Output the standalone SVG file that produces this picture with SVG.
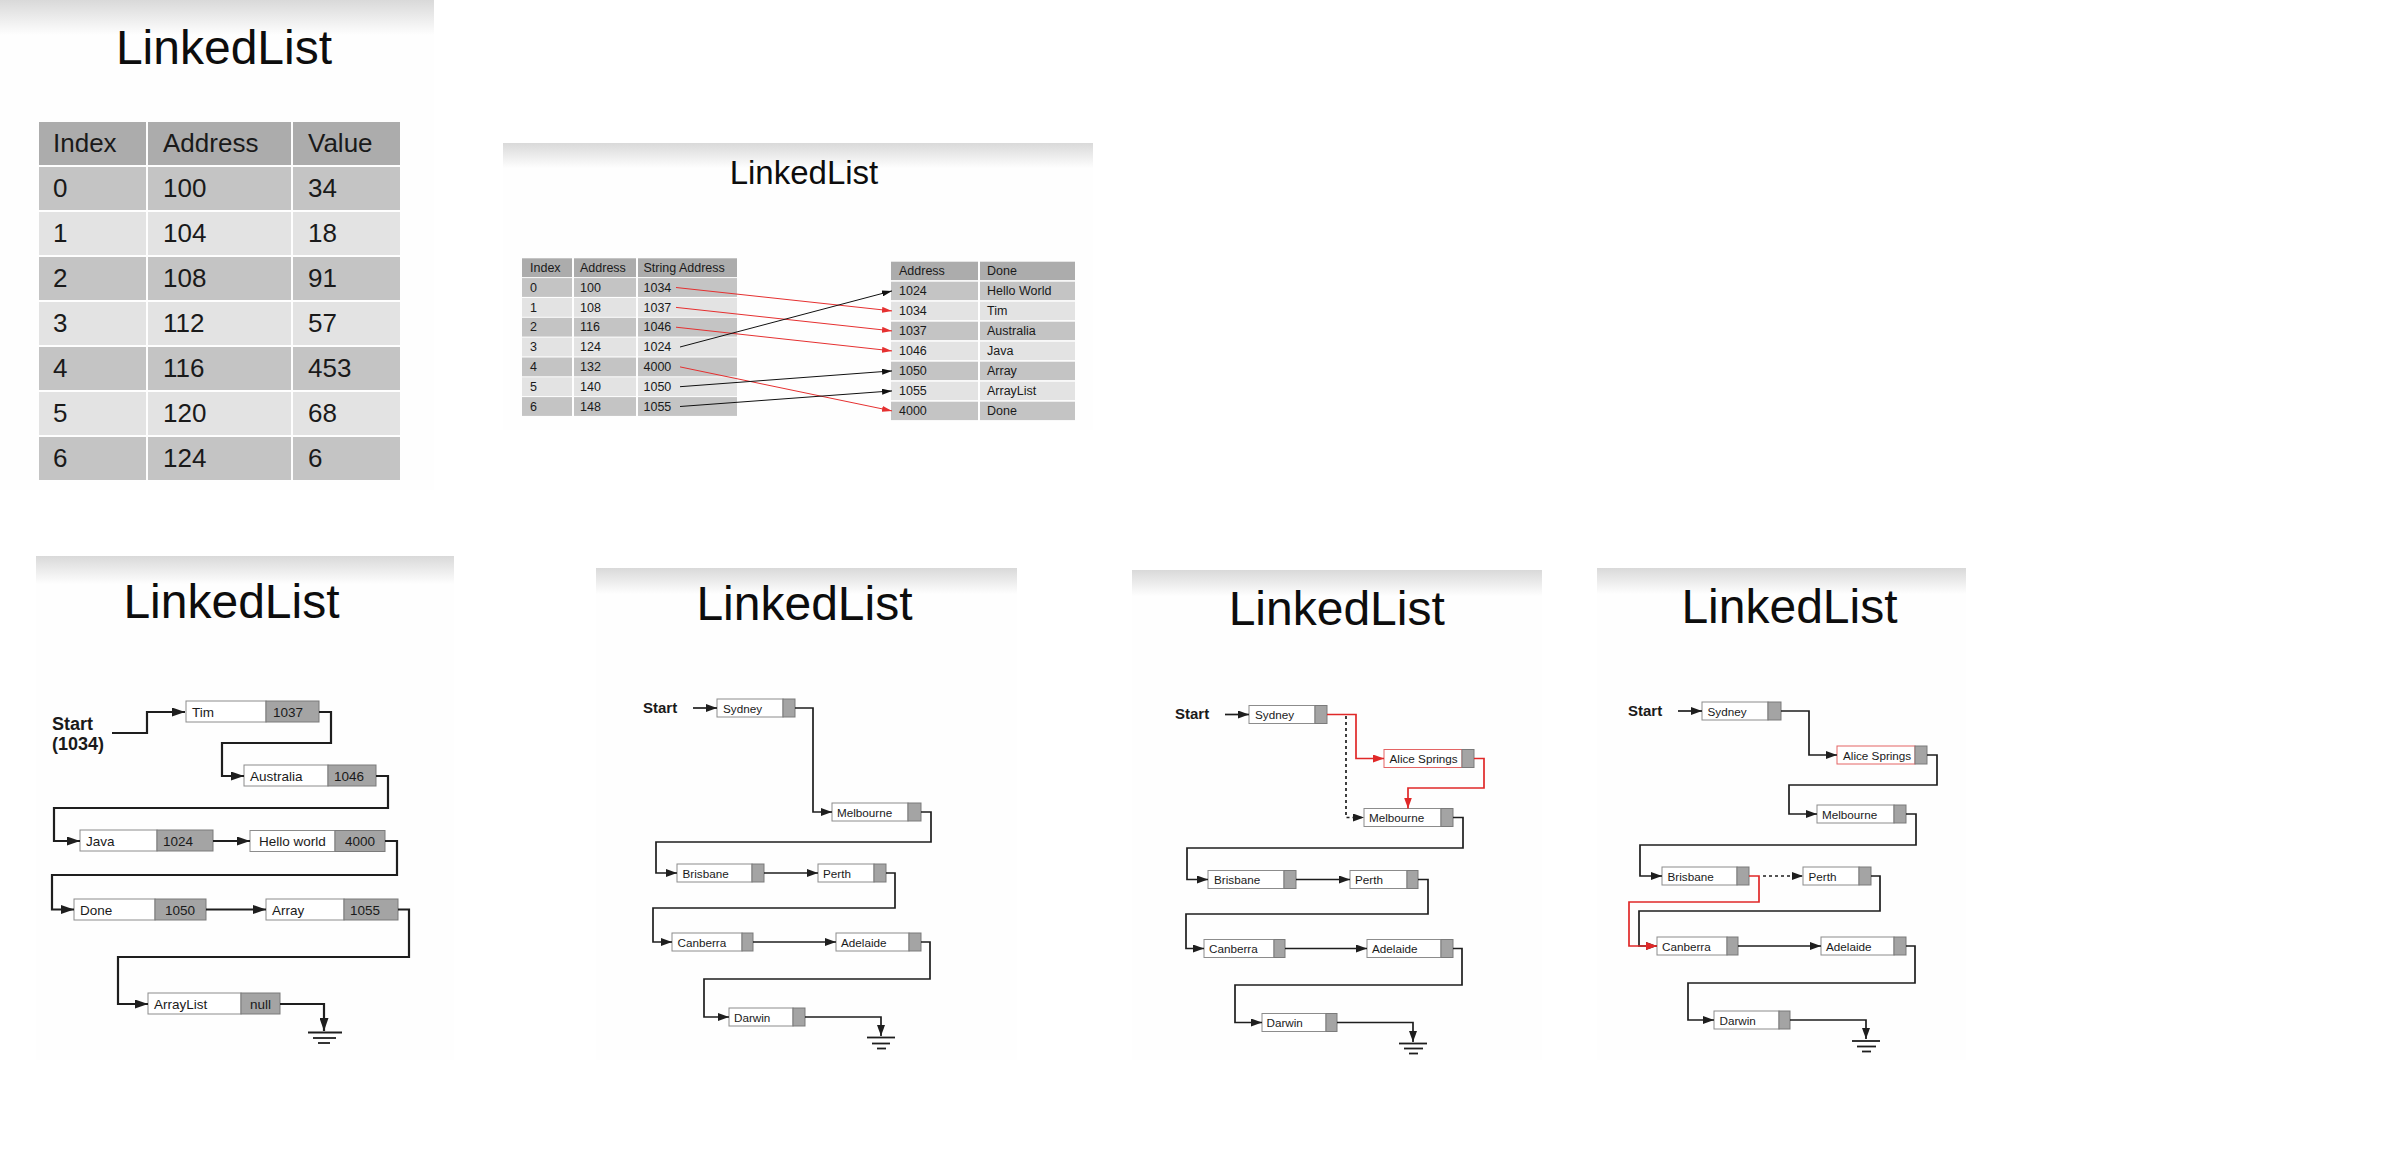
<svg xmlns="http://www.w3.org/2000/svg" width="2402" height="1150" viewBox="0 0 2402 1150">
<defs>
<linearGradient id="hdr" x1="0" y1="0" x2="0" y2="1">
<stop offset="0" stop-color="#d9d9d9"/>
<stop offset="1" stop-color="#fefefe"/>
</linearGradient>
<marker id="ahB" markerUnits="userSpaceOnUse" markerWidth="14" markerHeight="9" refX="13" refY="4.5" orient="auto"><path d="M0,0L13,4.5L0,9z" fill="#1e1e1e"/></marker>
<marker id="ahS" markerUnits="userSpaceOnUse" markerWidth="12" markerHeight="8" refX="11" refY="4" orient="auto"><path d="M0,0L11,4L0,8z" fill="#1e1e1e"/></marker>
<marker id="ahR" markerUnits="userSpaceOnUse" markerWidth="12" markerHeight="8" refX="11" refY="4" orient="auto"><path d="M0,0L11,4L0,8z" fill="#e02828"/></marker>
<marker id="ahT" markerUnits="userSpaceOnUse" markerWidth="11" markerHeight="6" refX="10" refY="3" orient="auto"><path d="M0,0L10,3L0,6z" fill="#111"/></marker>
<marker id="ahTR" markerUnits="userSpaceOnUse" markerWidth="11" markerHeight="6" refX="10" refY="3" orient="auto"><path d="M0,0L10,3L0,6z" fill="#e53030"/></marker>
</defs>
<style>
text{font-family:"Liberation Sans",Arial,sans-serif;fill:#1a1a1a}
.bg{fill:#fefefe}
.hd{fill:url(#hdr)}
.title{font-size:48px;text-anchor:middle;fill:#0d0d0d}
.th{fill:#acacac}
.td{fill:#c4c4c4}
.tl{fill:#e3e3e3}
.t1{font-size:26px}
.t2{font-size:12.5px}
.box{fill:#fff;stroke:#8c8c8c;stroke-width:1}
.rbox{fill:#fff;stroke:#e46464;stroke-width:1}
.ptr{fill:#a4a4a4;stroke:#7a7a7a;stroke-width:1}
.l13{font-size:13.5px}
.l12{font-size:11.7px}
.st{font-weight:bold}
.s18{font-size:18px}
.s15{font-size:15px}
.ln{fill:none;stroke:#1e1e1e;stroke-width:2.2}
.ln2{fill:none;stroke:#1e1e1e;stroke-width:1.7}
.red{stroke:#e02828}
.dash{stroke-dasharray:3 3}
.thin{fill:none;stroke:#111;stroke-width:1}
.thinr{fill:none;stroke:#e53030;stroke-width:1}
.gnd{stroke:#1e1e1e;stroke-width:1.8}
</style>

<!-- Panel backgrounds and titles -->
<g id="panel1">
<rect class="bg" x="0" y="0" width="434" height="490"/>
<rect class="hd" x="0" y="0" width="434" height="35"/>
<text class="title" x="224" y="64">LinkedList</text>
</g>
<g id="panel2">
<rect class="bg" x="503" y="143" width="590" height="287"/>
<rect class="hd" x="503" y="143" width="590" height="25"/>
<text class="title" x="804" y="184" style="font-size:33px">LinkedList</text>
</g>
<g id="panel3">
<rect class="bg" x="36" y="556" width="418" height="504"/>
<rect class="hd" x="36" y="556" width="418" height="28"/>
<text class="title" x="231.5" y="618">LinkedList</text>
</g>
<g id="panel4">
<rect class="bg" x="596" y="568" width="421" height="492"/>
<rect class="hd" x="596" y="568" width="421" height="26"/>
<text class="title" x="804.5" y="620">LinkedList</text>
</g>
<g id="panel5">
<rect class="bg" x="1132" y="570" width="410" height="490"/>
<rect class="hd" x="1132" y="570" width="410" height="26"/>
<text class="title" x="1336.7" y="625">LinkedList</text>
</g>
<g id="panel6">
<rect class="bg" x="1597" y="568" width="369" height="492"/>
<rect class="hd" x="1597" y="568" width="369" height="26"/>
<text class="title" x="1789.5" y="622.7">LinkedList</text>
</g>

<!-- Panel 1 table -->
<g id="table1">
<rect class="th" x="39" y="122" width="107" height="43"/><rect class="th" x="148" y="122" width="143" height="43"/><rect class="th" x="293" y="122" width="107" height="43"/>
<rect class="td" x="39" y="167" width="107" height="43"/><rect class="td" x="148" y="167" width="143" height="43"/><rect class="td" x="293" y="167" width="107" height="43"/>
<rect class="tl" x="39" y="212" width="107" height="43"/><rect class="tl" x="148" y="212" width="143" height="43"/><rect class="tl" x="293" y="212" width="107" height="43"/>
<rect class="td" x="39" y="257" width="107" height="43"/><rect class="td" x="148" y="257" width="143" height="43"/><rect class="td" x="293" y="257" width="107" height="43"/>
<rect class="tl" x="39" y="302" width="107" height="43"/><rect class="tl" x="148" y="302" width="143" height="43"/><rect class="tl" x="293" y="302" width="107" height="43"/>
<rect class="td" x="39" y="347" width="107" height="43"/><rect class="td" x="148" y="347" width="143" height="43"/><rect class="td" x="293" y="347" width="107" height="43"/>
<rect class="tl" x="39" y="392" width="107" height="43"/><rect class="tl" x="148" y="392" width="143" height="43"/><rect class="tl" x="293" y="392" width="107" height="43"/>
<rect class="td" x="39" y="437" width="107" height="43"/><rect class="td" x="148" y="437" width="143" height="43"/><rect class="td" x="293" y="437" width="107" height="43"/>
<g class="t1">
<text x="53" y="152">Index</text><text x="163" y="152">Address</text><text x="308" y="152">Value</text>
<text x="53" y="197">0</text><text x="163" y="197">100</text><text x="308" y="197">34</text>
<text x="53" y="242">1</text><text x="163" y="242">104</text><text x="308" y="242">18</text>
<text x="53" y="287">2</text><text x="163" y="287">108</text><text x="308" y="287">91</text>
<text x="53" y="332">3</text><text x="163" y="332">112</text><text x="308" y="332">57</text>
<text x="53" y="377">4</text><text x="163" y="377">116</text><text x="308" y="377">453</text>
<text x="53" y="422">5</text><text x="163" y="422">120</text><text x="308" y="422">68</text>
<text x="53" y="467">6</text><text x="163" y="467">124</text><text x="308" y="467">6</text>
</g>
</g>

<!-- Panel 2 tables -->
<g id="table2left">
<rect class="th" x="522" y="258.3" width="50" height="18.8"/><rect class="th" x="574" y="258.3" width="62" height="18.8"/><rect class="th" x="638" y="258.3" width="99" height="18.8"/>
<rect class="td" x="522" y="278.1" width="50" height="18.8"/><rect class="td" x="574" y="278.1" width="62" height="18.8"/><rect class="td" x="638" y="278.1" width="99" height="18.8"/>
<rect class="tl" x="522" y="298" width="50" height="18.8"/><rect class="tl" x="574" y="298" width="62" height="18.8"/><rect class="tl" x="638" y="298" width="99" height="18.8"/>
<rect class="td" x="522" y="317.8" width="50" height="18.8"/><rect class="td" x="574" y="317.8" width="62" height="18.8"/><rect class="td" x="638" y="317.8" width="99" height="18.8"/>
<rect class="tl" x="522" y="337.6" width="50" height="18.8"/><rect class="tl" x="574" y="337.6" width="62" height="18.8"/><rect class="tl" x="638" y="337.6" width="99" height="18.8"/>
<rect class="td" x="522" y="357.5" width="50" height="18.8"/><rect class="td" x="574" y="357.5" width="62" height="18.8"/><rect class="td" x="638" y="357.5" width="99" height="18.8"/>
<rect class="tl" x="522" y="377.3" width="50" height="18.8"/><rect class="tl" x="574" y="377.3" width="62" height="18.8"/><rect class="tl" x="638" y="377.3" width="99" height="18.8"/>
<rect class="td" x="522" y="397.1" width="50" height="18.8"/><rect class="td" x="574" y="397.1" width="62" height="18.8"/><rect class="td" x="638" y="397.1" width="99" height="18.8"/>
<g class="t2">
<text x="530" y="271.9">Index</text><text x="580" y="271.9">Address</text><text x="643.5" y="271.9">String Address</text>
<text x="530" y="291.7">0</text><text x="580" y="291.7">100</text><text x="643.5" y="291.7">1034</text>
<text x="530" y="311.6">1</text><text x="580" y="311.6">108</text><text x="643.5" y="311.6">1037</text>
<text x="530" y="331.4">2</text><text x="580" y="331.4">116</text><text x="643.5" y="331.4">1046</text>
<text x="530" y="351.2">3</text><text x="580" y="351.2">124</text><text x="643.5" y="351.2">1024</text>
<text x="530" y="371.1">4</text><text x="580" y="371.1">132</text><text x="643.5" y="371.1">4000</text>
<text x="530" y="390.9">5</text><text x="580" y="390.9">140</text><text x="643.5" y="390.9">1050</text>
<text x="530" y="410.7">6</text><text x="580" y="410.7">148</text><text x="643.5" y="410.7">1055</text>
</g>
</g>
<g id="table2right">
<rect class="th" x="891" y="261.7" width="87" height="18.4"/><rect class="th" x="980" y="261.7" width="95" height="18.4"/>
<rect class="td" x="891" y="281.7" width="87" height="18.4"/><rect class="td" x="980" y="281.7" width="95" height="18.4"/>
<rect class="tl" x="891" y="301.7" width="87" height="18.4"/><rect class="tl" x="980" y="301.7" width="95" height="18.4"/>
<rect class="td" x="891" y="321.7" width="87" height="18.4"/><rect class="td" x="980" y="321.7" width="95" height="18.4"/>
<rect class="tl" x="891" y="341.7" width="87" height="18.4"/><rect class="tl" x="980" y="341.7" width="95" height="18.4"/>
<rect class="td" x="891" y="361.7" width="87" height="18.4"/><rect class="td" x="980" y="361.7" width="95" height="18.4"/>
<rect class="tl" x="891" y="381.7" width="87" height="18.4"/><rect class="tl" x="980" y="381.7" width="95" height="18.4"/>
<rect class="td" x="891" y="401.7" width="87" height="18.4"/><rect class="td" x="980" y="401.7" width="95" height="18.4"/>
<g class="t2">
<text x="899" y="275.2">Address</text><text x="987" y="275.2">Done</text>
<text x="899" y="295.2">1024</text><text x="987" y="295.2">Hello World</text>
<text x="899" y="315.2">1034</text><text x="987" y="315.2">Tim</text>
<text x="899" y="335.2">1037</text><text x="987" y="335.2">Australia</text>
<text x="899" y="355.2">1046</text><text x="987" y="355.2">Java</text>
<text x="899" y="375.2">1050</text><text x="987" y="375.2">Array</text>
<text x="899" y="395.2">1055</text><text x="987" y="395.2">ArrayList</text>
<text x="899" y="415.2">4000</text><text x="987" y="415.2">Done</text>
</g>
</g>

<!-- Panel 3 nodes -->
<g id="p3-start"><text class="st s18" x="52" y="730">Start</text><text class="st s18" x="52" y="750">(1034)</text></g>
<g id="p3-tim"><rect class="box" x="186" y="701" width="80" height="21"/><rect class="ptr" x="266" y="701" width="53" height="21"/><text class="l13" x="192" y="716.5">Tim</text><text class="l13" x="273" y="716.5">1037</text></g>
<g id="p3-australia"><rect class="box" x="244" y="765" width="84" height="21"/><rect class="ptr" x="328" y="765" width="48" height="21"/><text class="l13" x="250" y="780.5">Australia</text><text class="l13" x="334" y="780.5">1046</text></g>
<g id="p3-java"><rect class="box" x="80" y="830" width="77" height="21"/><rect class="ptr" x="157" y="830" width="56" height="21"/><text class="l13" x="86" y="845.5">Java</text><text class="l13" x="163" y="845.5">1024</text></g>
<g id="p3-hello"><rect class="box" x="250" y="830.5" width="85" height="21"/><rect class="ptr" x="335" y="830.5" width="50" height="21"/><text class="l13" x="259" y="846">Hello world</text><text class="l13" x="345" y="846">4000</text></g>
<g id="p3-done"><rect class="box" x="74" y="899" width="81" height="21"/><rect class="ptr" x="155" y="899" width="51" height="21"/><text class="l13" x="80" y="914.5">Done</text><text class="l13" x="165" y="914.5">1050</text></g>
<g id="p3-array"><rect class="box" x="266" y="899" width="78" height="21"/><rect class="ptr" x="344" y="899" width="54" height="21"/><text class="l13" x="272" y="914.5">Array</text><text class="l13" x="350" y="914.5">1055</text></g>
<g id="p3-arraylist"><rect class="box" x="148" y="993" width="93" height="21"/><rect class="ptr" x="241" y="993" width="39" height="21"/><text class="l13" x="154" y="1008.5">ArrayList</text><text class="l13" x="250" y="1008.5">null</text></g>
<g id="p3-ground"><line class="gnd" x1="308" y1="1032.5" x2="342" y2="1032.5"/><line class="gnd" x1="313" y1="1038" x2="336" y2="1038"/><line class="gnd" x1="318" y1="1043" x2="330" y2="1043"/></g>

<!-- Panel 4 nodes -->
<g id="p4-start"><text class="st s15" x="643" y="713">Start</text></g>
<g id="p4-sydney"><rect class="box" x="717" y="699" width="66" height="18"/><rect class="ptr" x="783" y="699" width="12" height="18"/><text class="l12" x="723" y="712.5">Sydney</text></g>
<g id="p4-melbourne"><rect class="box" x="832" y="803" width="76" height="18"/><rect class="ptr" x="908" y="803" width="13" height="18"/><text class="l12" x="837" y="816.5">Melbourne</text></g>
<g id="p4-brisbane"><rect class="box" x="677" y="864" width="75" height="18"/><rect class="ptr" x="752" y="864" width="12" height="18"/><text class="l12" x="682.5" y="877.5">Brisbane</text></g>
<g id="p4-perth"><rect class="box" x="818" y="864" width="56" height="18"/><rect class="ptr" x="874" y="864" width="12" height="18"/><text class="l12" x="823" y="877.5">Perth</text></g>
<g id="p4-canberra"><rect class="box" x="672" y="933" width="70" height="18"/><rect class="ptr" x="742" y="933" width="11" height="18"/><text class="l12" x="677.5" y="946.5">Canberra</text></g>
<g id="p4-adelaide"><rect class="box" x="836" y="933" width="73" height="18"/><rect class="ptr" x="909" y="933" width="12" height="18"/><text class="l12" x="841" y="946.5">Adelaide</text></g>
<g id="p4-darwin"><rect class="box" x="729" y="1008" width="64" height="18"/><rect class="ptr" x="793" y="1008" width="12" height="18"/><text class="l12" x="734" y="1021.5">Darwin</text></g>
<g id="p4-ground"><line class="gnd" x1="867" y1="1037.5" x2="895" y2="1037.5"/><line class="gnd" x1="872" y1="1043.5" x2="890" y2="1043.5"/><line class="gnd" x1="877" y1="1048.5" x2="886" y2="1048.5"/></g>

<!-- Panel 5 nodes -->
<g id="p5-start"><text class="st s15" x="1175" y="719">Start</text></g>
<g id="p5-sydney"><rect class="box" x="1249" y="705.5" width="66" height="18"/><rect class="ptr" x="1315" y="705.5" width="12" height="18"/><text class="l12" x="1255" y="719">Sydney</text></g>
<g id="p5-alice"><rect class="rbox" x="1384" y="749.5" width="78" height="18"/><rect class="ptr" x="1462" y="749.5" width="12" height="18"/><text class="l12" x="1389.5" y="763">Alice Springs</text></g>
<g id="p5-melbourne"><rect class="box" x="1364" y="808.5" width="77" height="18"/><rect class="ptr" x="1441" y="808.5" width="12" height="18"/><text class="l12" x="1369" y="822">Melbourne</text></g>
<g id="p5-brisbane"><rect class="box" x="1208" y="870.5" width="76" height="18"/><rect class="ptr" x="1284" y="870.5" width="12" height="18"/><text class="l12" x="1214" y="884">Brisbane</text></g>
<g id="p5-perth"><rect class="box" x="1350" y="870.5" width="57" height="18"/><rect class="ptr" x="1407" y="870.5" width="11" height="18"/><text class="l12" x="1355" y="884">Perth</text></g>
<g id="p5-canberra"><rect class="box" x="1204" y="939.5" width="70" height="18"/><rect class="ptr" x="1274" y="939.5" width="11" height="18"/><text class="l12" x="1209" y="953">Canberra</text></g>
<g id="p5-adelaide"><rect class="box" x="1367" y="939.5" width="74" height="18"/><rect class="ptr" x="1441" y="939.5" width="12" height="18"/><text class="l12" x="1372" y="953">Adelaide</text></g>
<g id="p5-darwin"><rect class="box" x="1262" y="1013.5" width="64" height="18"/><rect class="ptr" x="1326" y="1013.5" width="11" height="18"/><text class="l12" x="1266.5" y="1027">Darwin</text></g>
<g id="p5-ground"><line class="gnd" x1="1399" y1="1043.5" x2="1427" y2="1043.5"/><line class="gnd" x1="1404" y1="1048.5" x2="1423" y2="1048.5"/><line class="gnd" x1="1409" y1="1053.5" x2="1418" y2="1053.5"/></g>

<!-- Panel 6 nodes -->
<g id="p6-start"><text class="st s15" x="1628" y="716">Start</text></g>
<g id="p6-sydney"><rect class="box" x="1702" y="702" width="66" height="18"/><rect class="ptr" x="1768" y="702" width="13" height="18"/><text class="l12" x="1707.5" y="715.5">Sydney</text></g>
<g id="p6-alice"><rect class="rbox" x="1837" y="746" width="78" height="18"/><rect class="ptr" x="1915" y="746" width="12" height="18"/><text class="l12" x="1843" y="759.5">Alice Springs</text></g>
<g id="p6-melbourne"><rect class="box" x="1817" y="805" width="77" height="18"/><rect class="ptr" x="1894" y="805" width="12" height="18"/><text class="l12" x="1822" y="818.5">Melbourne</text></g>
<g id="p6-brisbane"><rect class="box" x="1662" y="867" width="75" height="18"/><rect class="ptr" x="1737" y="867" width="12" height="18"/><text class="l12" x="1667.5" y="880.5">Brisbane</text></g>
<g id="p6-perth"><rect class="box" x="1803" y="867" width="56" height="18"/><rect class="ptr" x="1859" y="867" width="12" height="18"/><text class="l12" x="1808.5" y="880.5">Perth</text></g>
<g id="p6-canberra"><rect class="box" x="1657" y="937" width="70" height="18"/><rect class="ptr" x="1727" y="937" width="11" height="18"/><text class="l12" x="1662" y="950.5">Canberra</text></g>
<g id="p6-adelaide"><rect class="box" x="1821" y="937" width="73" height="18"/><rect class="ptr" x="1894" y="937" width="12" height="18"/><text class="l12" x="1826" y="950.5">Adelaide</text></g>
<g id="p6-darwin"><rect class="box" x="1714" y="1011" width="65" height="18"/><rect class="ptr" x="1779" y="1011" width="11" height="18"/><text class="l12" x="1719.5" y="1024.5">Darwin</text></g>
<g id="p6-ground"><line class="gnd" x1="1852" y1="1041" x2="1880" y2="1041"/><line class="gnd" x1="1857" y1="1046.5" x2="1876" y2="1046.5"/><line class="gnd" x1="1862" y1="1051.5" x2="1871" y2="1051.5"/></g>

<!-- Connectors -->
<g id="connectors">
<!-- panel 2 -->
<path class="thinr" d="M676,287.5L892,310.9" marker-end="url(#ahTR)"/>
<path class="thinr" d="M676,307.4L892,330.9" marker-end="url(#ahTR)"/>
<path class="thinr" d="M676,327.2L892,350.9" marker-end="url(#ahTR)"/>
<path class="thin" d="M680,347L892,290.9" marker-end="url(#ahT)"/>
<path class="thinr" d="M680,366.9L892,410.9" marker-end="url(#ahTR)"/>
<path class="thin" d="M680,386.7L892,370.9" marker-end="url(#ahT)"/>
<path class="thin" d="M680,406.5L892,390.9" marker-end="url(#ahT)"/>
<!-- panel 3 -->
<path class="ln" d="M112,733H147V712H185" marker-end="url(#ahB)"/>
<path class="ln" d="M319,712H331V743H222V776H244" marker-end="url(#ahB)"/>
<path class="ln" d="M376,776H388V808H54V841H80" marker-end="url(#ahB)"/>
<path class="ln" d="M213,841H250" marker-end="url(#ahB)"/>
<path class="ln" d="M385,841H397V875H52V909.5H74" marker-end="url(#ahB)"/>
<path class="ln" d="M206,909.5H266" marker-end="url(#ahB)"/>
<path class="ln" d="M398,909.5H409V957H118V1004H148" marker-end="url(#ahB)"/>
<path class="ln" d="M280,1004H324V1031" marker-end="url(#ahB)"/>
<!-- panel 4 -->
<path class="ln2" d="M693,708H717" marker-end="url(#ahS)"/>
<path class="ln2" d="M795,708H813V812H832" marker-end="url(#ahS)"/>
<path class="ln2" d="M921,812H931V842H656V873H677" marker-end="url(#ahS)"/>
<path class="ln2" d="M764,873H818" marker-end="url(#ahS)"/>
<path class="ln2" d="M886,873H895V908H653V942H672" marker-end="url(#ahS)"/>
<path class="ln2" d="M753,942H836" marker-end="url(#ahS)"/>
<path class="ln2" d="M921,942H930V979H704V1017H729" marker-end="url(#ahS)"/>
<path class="ln2" d="M805,1017H881V1036" marker-end="url(#ahS)"/>
<!-- panel 5 -->
<path class="ln2" d="M1225,714.5H1249" marker-end="url(#ahS)"/>
<path class="ln2 dash" d="M1346,716V817.5H1364" marker-end="url(#ahS)"/>
<path class="ln2 red" d="M1327,714.5H1356V758.5H1384" marker-end="url(#ahR)"/>
<path class="ln2 red" d="M1474,758.5H1484V788H1408V808.5" marker-end="url(#ahR)"/>
<path class="ln2" d="M1453,817.5H1463V848H1187V879.5H1208" marker-end="url(#ahS)"/>
<path class="ln2" d="M1296,879.5H1350" marker-end="url(#ahS)"/>
<path class="ln2" d="M1418,879.5H1428V914H1186V948.5H1204" marker-end="url(#ahS)"/>
<path class="ln2" d="M1285,948.5H1367" marker-end="url(#ahS)"/>
<path class="ln2" d="M1453,948.5H1462V985H1235V1022.5H1262" marker-end="url(#ahS)"/>
<path class="ln2" d="M1337,1022.5H1413V1042" marker-end="url(#ahS)"/>
<!-- panel 6 -->
<path class="ln2" d="M1678,711H1702" marker-end="url(#ahS)"/>
<path class="ln2" d="M1781,711H1809V755H1837" marker-end="url(#ahS)"/>
<path class="ln2" d="M1927,755H1937V785H1789V814H1817" marker-end="url(#ahS)"/>
<path class="ln2" d="M1906,814H1916V845H1640V876H1662" marker-end="url(#ahS)"/>
<path class="ln2 dash" d="M1763,876H1803" marker-end="url(#ahS)"/>
<path class="ln2" d="M1871,876H1880V911H1639V946H1657" marker-end="url(#ahS)"/>
<path class="ln2 red" d="M1749,876H1759V902H1629V946H1657" marker-end="url(#ahR)"/>
<path class="ln2" d="M1738,946H1821" marker-end="url(#ahS)"/>
<path class="ln2" d="M1906,946H1915V983H1688V1020H1714" marker-end="url(#ahS)"/>
<path class="ln2" d="M1790,1020H1866V1039" marker-end="url(#ahS)"/>
</g>
</svg>
